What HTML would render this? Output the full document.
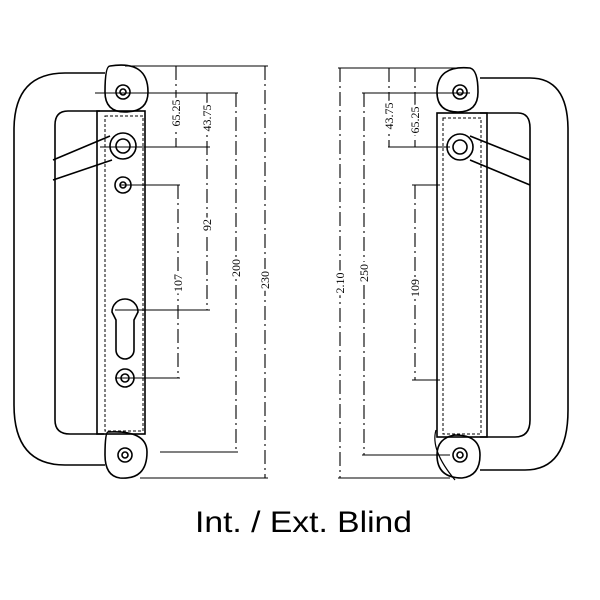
<!DOCTYPE html>
<html><head><style>html,body{margin:0;padding:0;background:#fff}svg{display:block}</style></head><body>
<svg width="600" height="600" viewBox="0 0 600 600" xmlns="http://www.w3.org/2000/svg">
<g fill="none" stroke="#000" stroke-width="1.6">
<path d="M105,73 H65 Q14,73 14,130 V405 Q14,465 65,465 H105"/>
<path d="M100,111 H68 Q55,111 55,125 V420 Q55,434 70,434 H104"/>
<rect x="97" y="111" width="48" height="323"/>
<rect x="105" y="116" width="38" height="315" stroke-dasharray="3,2" stroke-width="1"/>
<path d="M110,66 Q148,60 148,92 Q148,112 125,112 Q105,112 105,92 Q105,66 110,66 Z"/>
<path d="M108,432 Q147,430 147,452 Q147,480 120,478 Q105,476 105,455 Q105,432 108,432 Z"/>
<circle cx="123" cy="92" r="7"/><circle cx="123" cy="92" r="3"/>
<circle cx="125" cy="455" r="7"/><circle cx="125" cy="455" r="3"/>
<path d="M53,160 L110,136 M53,180 L112,160"/>
<circle cx="123" cy="146" r="13"/><circle cx="123" cy="146" r="7"/>
<circle cx="123" cy="185" r="8"/><circle cx="123" cy="185" r="3"/>
<path d="M112,312 A13,13 0 1 1 138,312 L134,320 V350 A9,9 0 0 1 116,350 V320 Z"/>
<circle cx="125" cy="378" r="9"/><circle cx="125" cy="378" r="4"/>
<path d="M480,78 H530 Q568,78 568,130 V410 Q568,470 525,470 H480"/>
<path d="M480,113 H518 Q530,113 530,128 V420 Q530,437 515,437 H480"/>
<rect x="437" y="113" width="50" height="324"/>
<rect x="443" y="118" width="38" height="316" stroke-dasharray="3,2" stroke-width="1"/>
<path d="M470,68 Q437,65 437,92 Q437,112 458,112 Q478,112 478,92 Q478,70 470,68 Z"/>
<path d="M455,435 Q437,438 437,455 Q437,478 462,478 Q480,476 480,455 Q480,435 455,435 Z"/>
<circle cx="460" cy="92" r="7"/><circle cx="460" cy="92" r="3"/>
<circle cx="460" cy="455" r="7"/><circle cx="460" cy="455" r="3"/>
<circle cx="460" cy="147" r="13"/><circle cx="460" cy="147" r="7"/>
<path d="M470,136 L530,160 M470,160 L530,185"/>
<path d="M436,430 Q430,450 455,480" stroke-width="1.2"/>
</g>
<g fill="none" stroke="#000" stroke-width="1.1">
<path d="M125,66 H268 M95,93 H238 M100,147 H210 M120,185 H180 M115,310 H210 M115,378 H180 M160,452 H238 M140,478 H268"/>
<path d="M176,66 V147 M207,93 V310 M178,185 V378 M236,93 V452 M265,66 V478" stroke-dasharray="14,4,2,4"/>
<path d="M338,68 H470 M362,93 H470 M388,147 H450 M412,185 H440 M412,380 H440 M362,455 H450 M338,478 H450"/>
<path d="M340,68 V478 M364,93 V455 M389,68 V147 M415,68 V147 M415,185 V380" stroke-dasharray="14,4,2,4"/>
</g>
<g font-family="Liberation Serif, serif" font-size="12" fill="#000" text-anchor="middle" stroke="#fff" stroke-width="5" paint-order="stroke">
<text transform="translate(176,113) rotate(-90)" dy="4">65.25</text>
<text transform="translate(207,118) rotate(-90)" dy="4">43.75</text>
<text transform="translate(207,225) rotate(-90)" dy="4">92</text>
<text transform="translate(178,283) rotate(-90)" dy="4">107</text>
<text transform="translate(236,268) rotate(-90)" dy="4">200</text>
<text transform="translate(265,280) rotate(-90)" dy="4">230</text>
<text transform="translate(340,283) rotate(-90)" dy="4">2.10</text>
<text transform="translate(364,273) rotate(-90)" dy="4">250</text>
<text transform="translate(389,116) rotate(-90)" dy="4">43.75</text>
<text transform="translate(415,120) rotate(-90)" dy="4">65.25</text>
<text transform="translate(415,288) rotate(-90)" dy="4">109</text>
</g>
<text x="195" y="532" font-family="Liberation Sans, sans-serif" font-size="30" textLength="217" lengthAdjust="spacingAndGlyphs" fill="#000">Int. / Ext. Blind</text>
</svg>
</body></html>
